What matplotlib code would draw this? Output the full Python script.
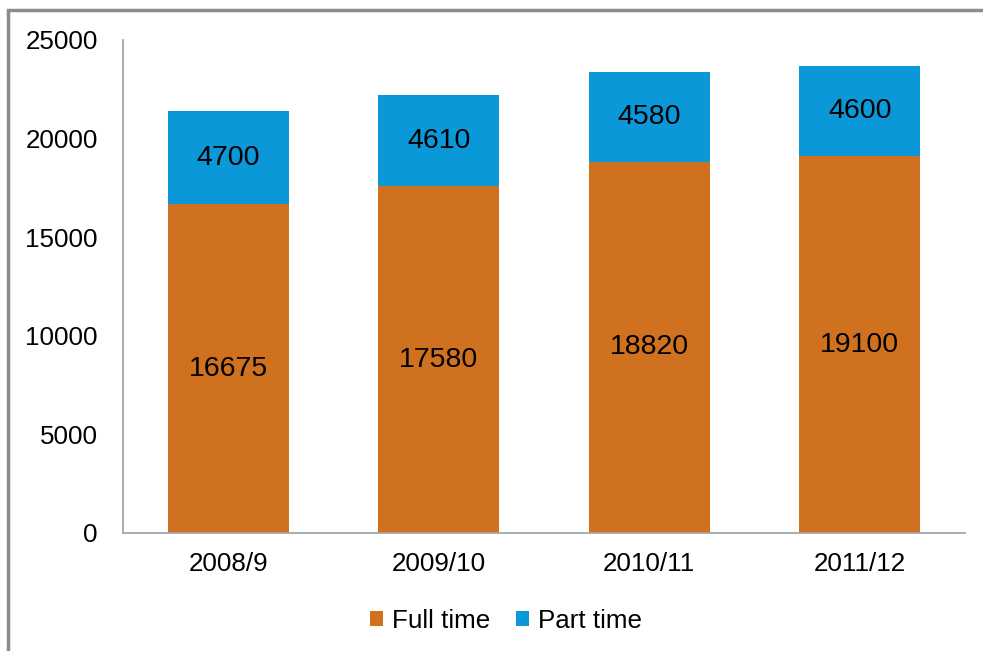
import matplotlib.pyplot as plt
from matplotlib.patches import Rectangle

plt.rcParams['font.family'] = ['Liberation Sans', 'DejaVu Sans']

years = ['2008/9', '2009/10', '2010/11', '2011/12']
full_time = [16675, 17580, 18820, 19100]
part_time = [4700, 4610, 4580, 4600]

orange = '#D0711F'
blue = '#0A98D8'

fig = plt.figure(figsize=(9.83, 6.51), dpi=100)
ax = fig.add_axes([123 / 983, 1 - 533 / 651, (965 - 123) / 983, (533 - 40) / 651])

x = range(len(years))
ax.bar(x, full_time, width=0.575, color=orange, label='Full time')
ax.bar(x, part_time, width=0.575, bottom=full_time, color=blue, label='Part time')

# data labels in the middle of each segment
for i in x:
    ax.text(i, full_time[i] / 2, str(full_time[i]), ha='center', va='center', fontsize=20.5)
    ax.text(i, full_time[i] + part_time[i] / 2, str(part_time[i]), ha='center', va='center', fontsize=20.5)

ax.set_xlim(-0.5, 3.5)
ax.set_ylim(0, 25000)
ax.set_yticks(range(0, 25001, 5000))
ax.set_xticks(list(x))
ax.set_xticklabels(years)
ax.tick_params(axis='both', length=0, labelsize=18.7)
ax.tick_params(axis='y', pad=18)
ax.tick_params(axis='x', pad=14)
for s in ['top', 'right']:
    ax.spines[s].set_visible(False)
for s in ['left', 'bottom']:
    ax.spines[s].set_color('#A6A6A6')
    ax.spines[s].set_linewidth(1.3)

ax.legend(loc='center', bbox_to_anchor=(0.455, -0.178), ncol=2, frameon=False,
          fontsize=18.7, handlelength=0.5, handleheight=0.5, handletextpad=0.35,
          columnspacing=1.0)

# outer chart border (cut off on the right and bottom)
fig.patches.append(Rectangle((8 / 983, -0.05), 1.1, 1 - 10 / 651 + 0.05, transform=fig.transFigure,
                             fill=False, edgecolor='#8C8C8C', linewidth=2.5))

fig.savefig('out.png', dpi=100)
